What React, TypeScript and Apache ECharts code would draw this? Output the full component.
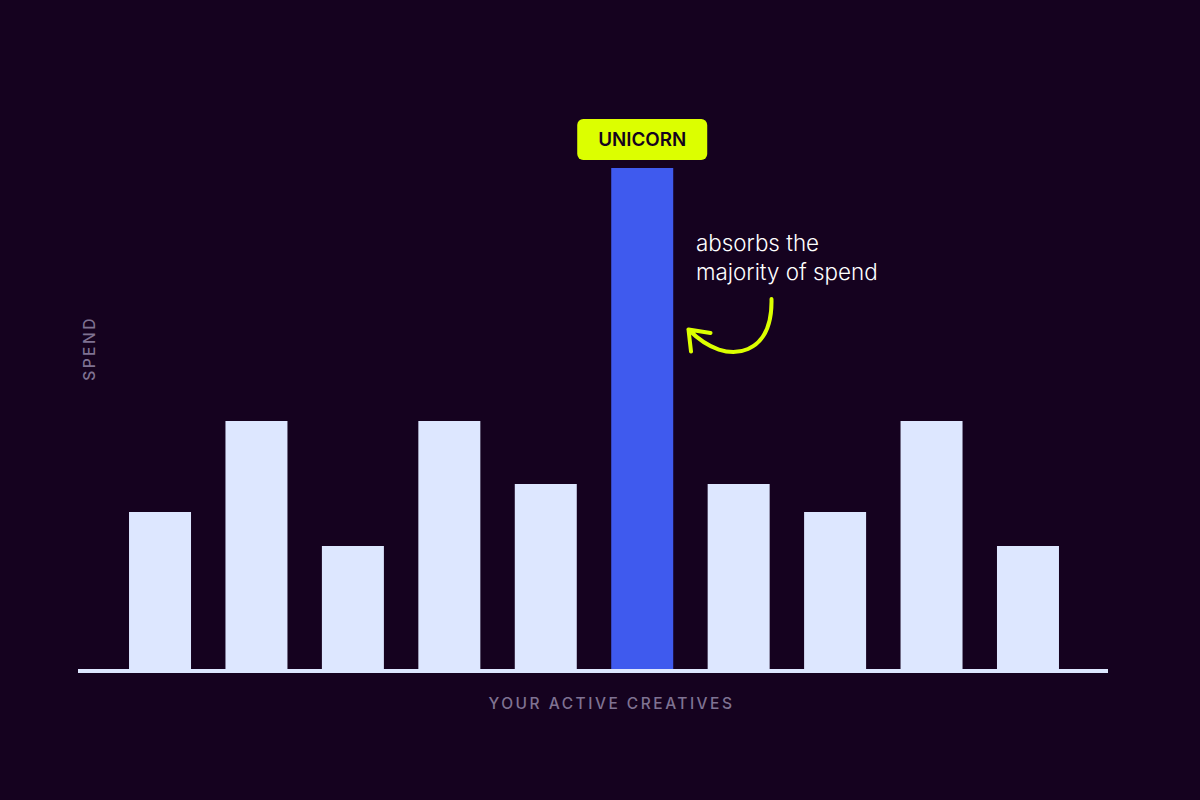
import React, { useEffect, useRef } from 'react';
import * as echarts from 'echarts';

const creatives = ['1', '2', '3', '4', '5', 'Unicorn', '7', '8', '9', '10'];
const spend = [157, 248, 123, 248, 185, 501, 185, 157, 248, 123];
const unicornIndex = 5;
const unicornLabel = 'UNICORN';
const noteLines = ['absorbs the', 'majority of spend'];
const xTitle = 'YOUR ACTIVE CREATIVES';
const yTitle = 'SPEND';

const BG = '#15021f';
const PALE = '#dde7ff';
const BLUE = '#3f5aee';
const LIME = '#dcff00';
const MUTED = '#7f7292';

// hand drawn arrow next to the tall bar
const arrowPath =
  'M771.5 299 C772 322 766 341 748 349 C730 357 708 349 688.5 329.5 M688.5 329.5 L710.5 333 M688.5 329.5 L691 351.5';

const App = () => {
  const chartRef = useRef<HTMLDivElement>(null);

  useEffect(() => {
    if (!chartRef.current) return;
    echarts.graphic.registerShape('curlyArrow', echarts.graphic.extendPath(arrowPath, {}));
    const chart = echarts.init(chartRef.current, undefined, { renderer: 'svg' });

    chart.setOption({
      animation: false,
      backgroundColor: BG,
      grid: { left: 111.8, width: 964.4, top: 168, height: 501 },
      xAxis: {
        type: 'category',
        data: creatives,
        axisLine: { show: false },
        axisTick: { show: false },
        axisLabel: { show: false },
      },
      yAxis: {
        type: 'value',
        min: 0,
        max: 501,
        axisLine: { show: false },
        axisTick: { show: false },
        axisLabel: { show: false },
        splitLine: { show: false },
      },
      series: [
        {
          type: 'bar',
          barWidth: 62,
          data: spend.map((value, i) =>
            i === unicornIndex
              ? {
                  value,
                  itemStyle: { color: BLUE },
                  label: {
                    show: true,
                    position: 'top',
                    distance: 8,
                    formatter: unicornLabel,
                    width: 130,
                    height: 41,
                    lineHeight: 41,
                    align: 'center',
                    backgroundColor: LIME,
                    borderRadius: 6,
                    color: BG,
                    fontFamily: 'Inter',
                    fontWeight: 600,
                    fontSize: 18.8,
                  },
                }
              : { value, itemStyle: { color: PALE } },
          ),
        },
      ],
      graphic: [
        { type: 'rect', shape: { x: 78, y: 669, width: 1030, height: 4 }, style: { fill: PALE } },
        {
          type: 'text',
          x: 611.5,
          y: 703,
          style: {
            text: xTitle,
            fill: MUTED,
            font: '500 15.5px Inter',
            textAlign: 'center',
            textVerticalAlign: 'middle',
          },
        },
        {
          type: 'text',
          x: 89,
          y: 348.5,
          rotation: Math.PI / 2,
          style: {
            text: yTitle,
            fill: MUTED,
            font: '500 15.5px Inter',
            textAlign: 'center',
            textVerticalAlign: 'middle',
          },
        },
        {
          type: 'text',
          x: 696,
          y: 242,
          style: { text: noteLines[0], fill: '#ffffff', font: '300 22.4px Inter', textVerticalAlign: 'middle' },
        },
        {
          type: 'text',
          x: 696,
          y: 271,
          style: { text: noteLines[1], fill: '#ffffff', font: '300 22.4px Inter', textVerticalAlign: 'middle' },
        },
        {
          type: 'curlyArrow',
          style: { fill: 'none', stroke: LIME, lineWidth: 4, lineCap: 'round', lineJoin: 'round' },
        },
      ],
    });

    return () => chart.dispose();
  }, []);

  return (
    <>
      {/* echarts has no letter spacing option, so the two axis titles get it here */}
      <style>{`text[fill="${MUTED}"] { letter-spacing: 2.5px; }`}</style>
      <div ref={chartRef} style={{ position: 'fixed', top: 0, left: 0, width: 1200, height: 800 }} />
    </>
  );
};

export default App;
